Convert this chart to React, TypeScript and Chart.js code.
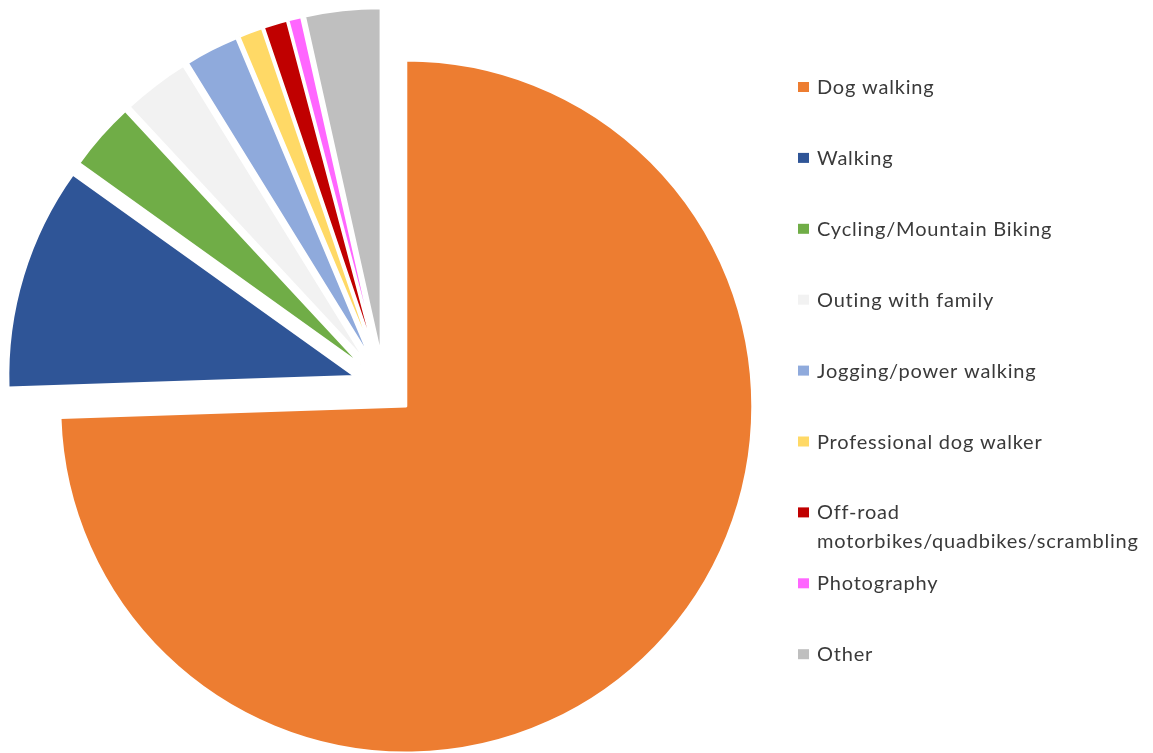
import React, { useEffect, useRef } from 'react';
import { Chart, registerables } from 'chart.js';

Chart.register(...registerables);

// ---- data ----
const categories: string[] = [
  'Dog walking',
  'Walking',
  'Cycling/Mountain Biking',
  'Outing with family',
  'Jogging/power walking',
  'Professional dog walker',
  'Off-road motorbikes/quadbikes/scrambling',
  'Photography',
  'Other',
];

// legend text as wrapped in the reference
const legendLines: string[][] = [
  ['Dog walking'],
  ['Walking'],
  ['Cycling/Mountain Biking'],
  ['Outing with family'],
  ['Jogging/power walking'],
  ['Professional dog walker'],
  ['Off-road', 'motorbikes/quadbikes/scrambling'],
  ['Photography'],
  ['Other'],
];

const shares: number[] = [74.4, 10.4, 3.2, 3.1, 2.5, 1.1, 1.1, 0.6, 3.5];

const colors: string[] = [
  '#ED7D31',
  '#2F5597',
  '#70AD47',
  '#F2F2F2',
  '#8FAADC',
  '#FFD966',
  '#C00000',
  '#FF66FF',
  '#BFBFBF',
];

// ---- layout constants ----
const W = 1153;
const H = 753;
const CX = 384;
const CY = 385;
const RADIUS = 346;
const EXPLODE = 31;

const LEGEND = {
  squareX: 798,
  textX: 817,
  firstBaseline: 94,
  step: 70.9,
  lineHeight: 29,
  square: 11,
  font: '20px Lato, "Noto Sans", sans-serif',
  letterSpacing: '0.8px',
  color: '#3A3A3A',
};

const explodePlugin = {
  id: 'explodeSlices',
  beforeDatasetDraw(chart: any, args: any) {
    const ctx = chart.ctx;
    args.meta.data.forEach((el: any) => {
      const p = el.getProps(['startAngle', 'endAngle'], true);
      const mid = (p.startAngle + p.endAngle) / 2;
      ctx.save();
      ctx.translate(Math.cos(mid) * EXPLODE, Math.sin(mid) * EXPLODE);
      el.draw(ctx, chart.chartArea);
      ctx.restore();
    });
    return false;
  },
};

const legendPlugin = {
  id: 'sideLegend',
  afterDraw(chart: any) {
    const ctx = chart.ctx;
    ctx.save();
    ctx.font = LEGEND.font;
    (ctx as any).letterSpacing = LEGEND.letterSpacing;
    ctx.textBaseline = 'alphabetic';
    ctx.textAlign = 'left';
    legendLines.forEach((lines, i) => {
      const base = LEGEND.firstBaseline + i * LEGEND.step;
      ctx.fillStyle = colors[i];
      ctx.fillRect(LEGEND.squareX, base - 12, LEGEND.square, LEGEND.square - 1);
      ctx.fillStyle = LEGEND.color;
      lines.forEach((t, j) => {
        ctx.fillText(t, LEGEND.textX, base + j * LEGEND.lineHeight);
      });
    });
    ctx.restore();
  },
};

export default function App() {
  const ref = useRef<HTMLCanvasElement | null>(null);

  useEffect(() => {
    if (!ref.current) return;
    const chart = new Chart(ref.current, {
      type: 'pie',
      data: {
        labels: categories,
        datasets: [
          {
            data: shares,
            backgroundColor: colors,
            borderColor: '#FFFFFF',
            borderWidth: 2,
          },
        ],
      },
      options: {
        responsive: false,
        animation: false,
        radius: RADIUS,
        layout: {
          padding: {
            left: 0,
            right: W - 2 * CX,
            top: 2 * CY - H,
            bottom: 0,
          },
        },
        plugins: {
          legend: { display: false },
          tooltip: { enabled: false },
          title: { display: false },
        },
      } as any,
      plugins: [explodePlugin, legendPlugin],
    });
    return () => chart.destroy();
  }, []);

  return (
    <div style={{ position: 'fixed', left: 0, top: 0, width: W, height: H, background: '#FFFFFF' }}>
      <canvas ref={ref} width={W} height={H} style={{ display: 'block' }} />
    </div>
  );
}
